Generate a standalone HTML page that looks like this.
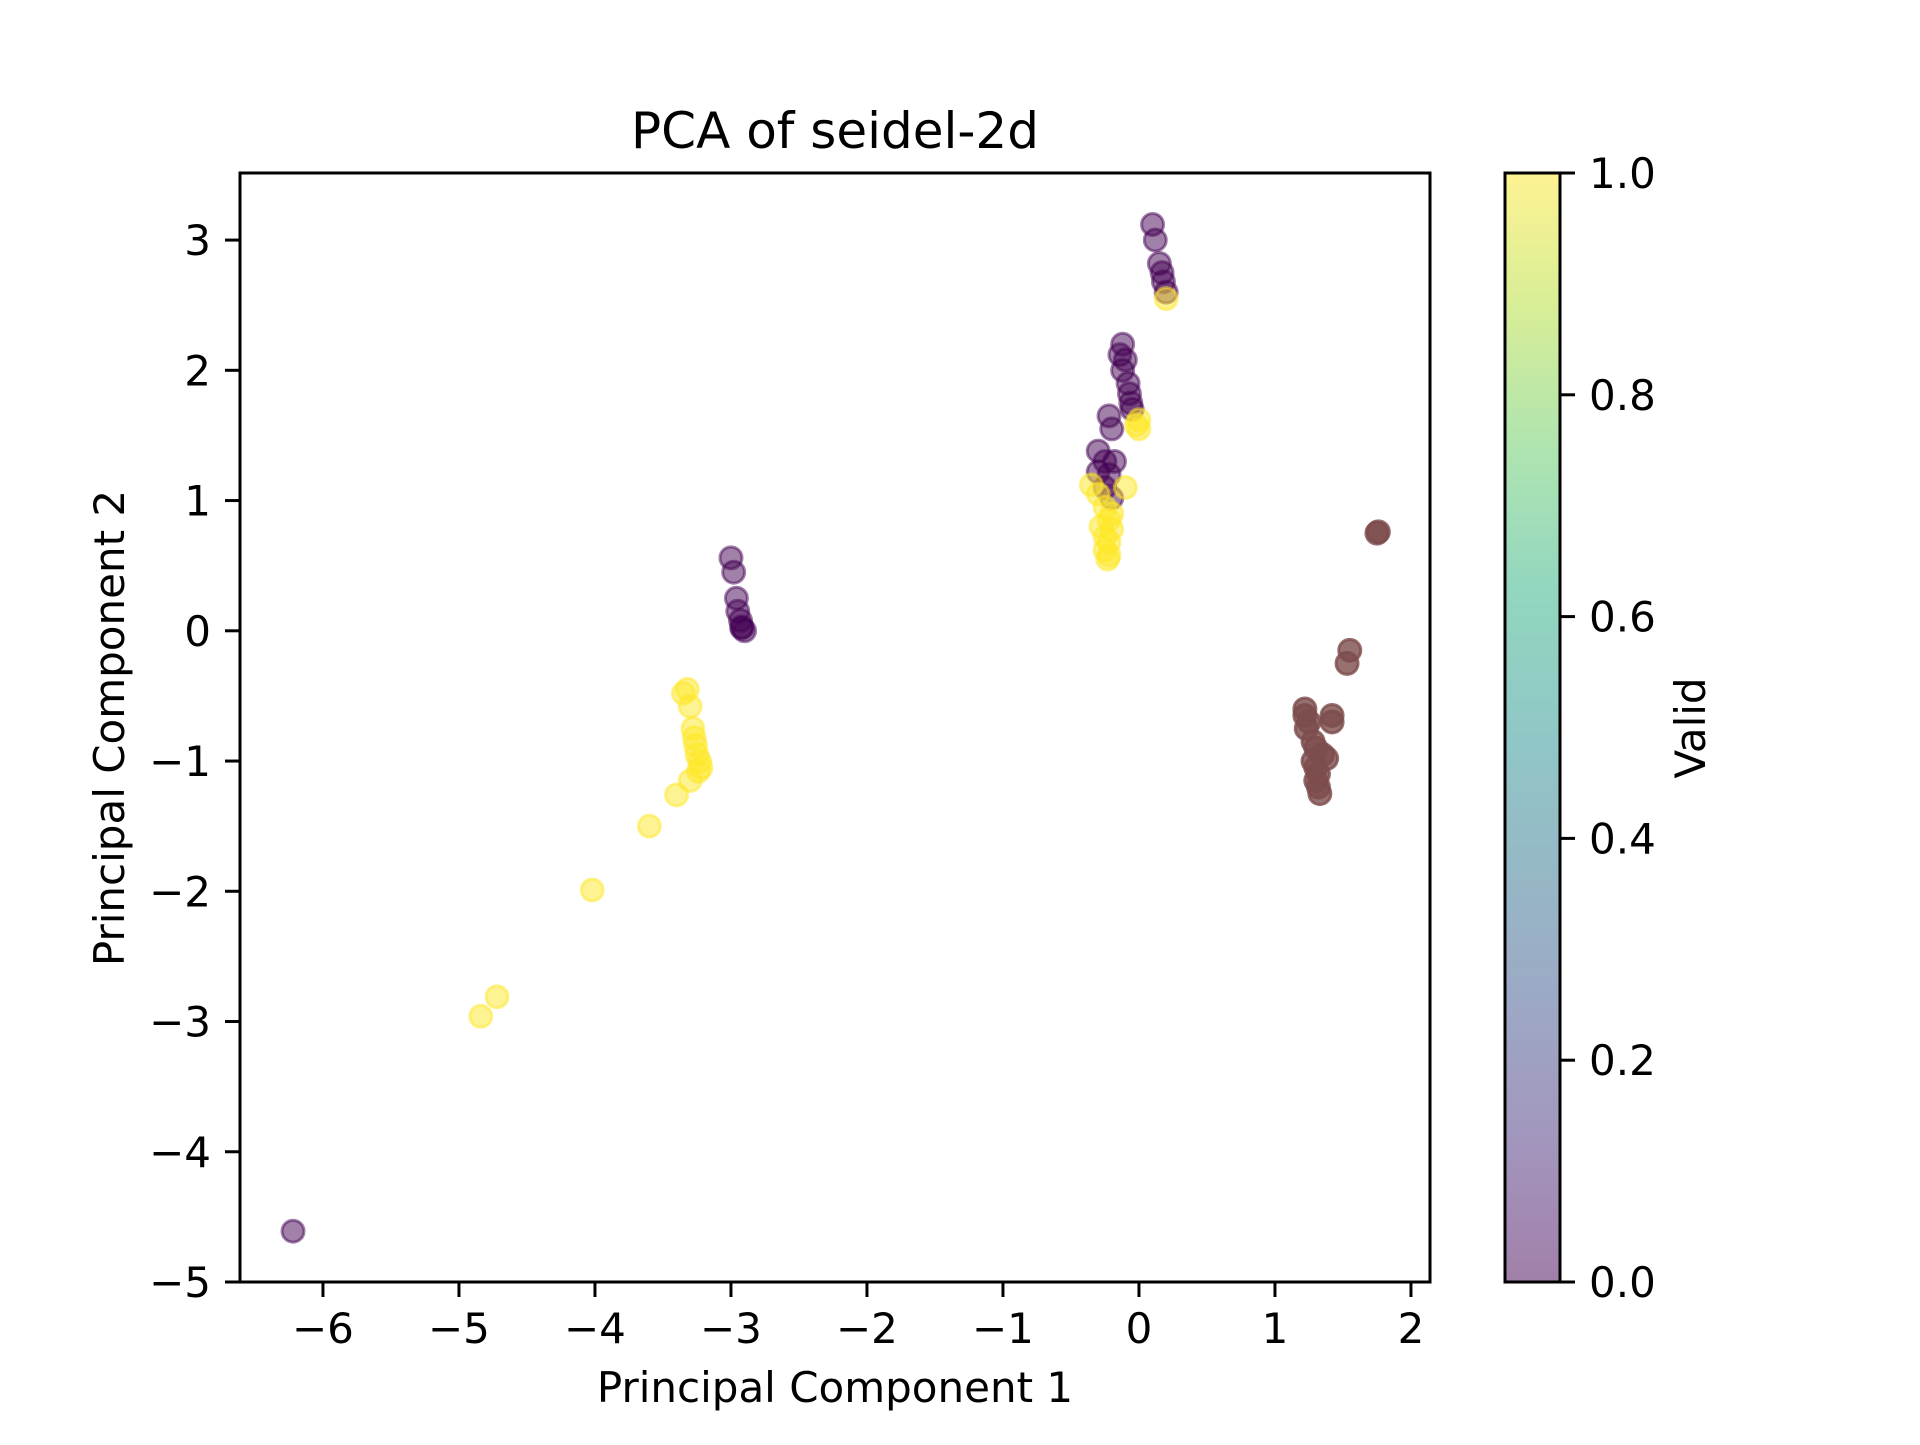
<!DOCTYPE html>
<html><head><meta charset="utf-8"><style>
body{margin:0;background:#fff}
svg text{font-family:"DejaVu Sans","Liberation Sans",sans-serif;fill:#000}
</style></head><body>
<svg id="chart" width="1920" height="1440" viewBox="0 0 1920 1440" xmlns="http://www.w3.org/2000/svg">
<defs>
<linearGradient id="viridis" x1="0" y1="1" x2="0" y2="0">
<stop offset="0" stop-color="#440154"/><stop offset="0.125" stop-color="#472d7b"/><stop offset="0.25" stop-color="#3b528b"/><stop offset="0.375" stop-color="#2c728e"/><stop offset="0.5" stop-color="#21918c"/><stop offset="0.625" stop-color="#28ae80"/><stop offset="0.75" stop-color="#5ec962"/><stop offset="0.875" stop-color="#addc30"/><stop offset="1" stop-color="#fde725"/>
</linearGradient>
</defs>
<rect width="1920" height="1440" fill="#fff"/>
<text x="835" y="148" font-size="50" text-anchor="middle">PCA of seidel-2d</text>
<g id="marks"></g>
<g id="axes"></g>
<rect x="240" y="173" width="1190" height="1109" fill="none" stroke="#000" stroke-width="3"/>
<text x="835" y="1402" font-size="42" text-anchor="middle">Principal Component 1</text>
<text transform="translate(124,728) rotate(-90)" font-size="42" text-anchor="middle">Principal Component 2</text>
<rect x="1505" y="173" width="55" height="1109" fill="url(#viridis)" fill-opacity="0.5" stroke="#000" stroke-width="3"/>
<g id="cbar"></g>
<text transform="translate(1705,728) rotate(-90)" font-size="42" text-anchor="middle">Valid</text>
</svg>
<script>
const xTicks=[-6,-5,-4,-3,-2,-1,0,1,2];
const yTicks=[-5,-4,-3,-2,-1,0,1,2,3];
const cTicks=[0.0,0.2,0.4,0.6,0.8,1.0];
const invalidX=[0.1,0.12,0.15,0.17,0.18,0.2,-0.12,-0.14,-0.1,-0.12,-0.08,-0.07,-0.06,-0.05,-0.22,-0.2,-0.3,-0.25,-0.18,-0.3,-0.22,-0.25,-0.2,-3.0,-2.98,-2.96,-2.95,-2.93,-2.92,-2.9,-2.92,-6.22];
const invalidY=[3.12,3.0,2.82,2.75,2.68,2.6,2.2,2.12,2.08,2.0,1.9,1.82,1.75,1.7,1.65,1.55,1.38,1.3,1.3,1.22,1.2,1.1,1.02,0.56,0.45,0.25,0.15,0.08,0.03,0.0,0.02,-4.61];
const validX=[0.2,0.0,0.0,-0.02,-0.35,-0.1,-0.3,-0.25,-0.2,-0.22,-0.28,-0.2,-0.25,-0.22,-0.25,-0.22,-0.23,-3.35,-3.32,-3.3,-3.28,-3.27,-3.26,-3.25,-3.23,-3.22,-3.24,-3.3,-3.4,-3.6,-4.02,-4.72,-4.84];
const validY=[2.55,1.62,1.55,1.58,1.12,1.1,1.05,0.95,0.9,0.85,0.8,0.78,0.72,0.68,0.62,0.58,0.55,-0.48,-0.45,-0.58,-0.75,-0.82,-0.88,-0.95,-1.0,-1.05,-1.08,-1.15,-1.26,-1.5,-1.99,-2.81,-2.96];
const mixedX=[1.75,1.76,1.55,1.53,1.22,1.22,1.25,1.23,1.42,1.42,1.28,1.3,1.35,1.38,1.28,1.3,1.32,1.3,1.32,1.33];
const mixedY=[0.75,0.76,-0.15,-0.25,-0.6,-0.65,-0.7,-0.75,-0.65,-0.7,-0.85,-0.9,-0.95,-0.98,-1.0,-1.05,-1.1,-1.15,-1.2,-1.25];
const NS="http://www.w3.org/2000/svg";
const X0=240,X1=1430,Y0=1282,Y1=173,XMIN=-6.61,XMAX=2.14,YMIN=-5,YMAX=3.515;
function sx(v){return X0+(v-XMIN)/(XMAX-XMIN)*(X1-X0);}
function sy(v){return Y0-(v-YMIN)/(YMAX-YMIN)*(Y0-Y1);}
function cy(v){return 1282-v*(1282-173);}
function mk(tag,attrs,parent){const e=document.createElementNS(NS,tag);for(const k in attrs)e.setAttribute(k,attrs[k]);parent.appendChild(e);return e;}
const marks=document.getElementById('marks'),axes=document.getElementById('axes'),cbar=document.getElementById('cbar');
function drawSeries(xs,ys,color,op,name){
  for(let i=0;i<xs.length;i++){
    const c=mk('circle',{cx:sx(xs[i]),cy:sy(ys[i]),r:11,fill:color,'fill-opacity':op,stroke:color,'stroke-opacity':op,'stroke-width':3},marks);
    
    
  }
}
drawSeries(invalidX,invalidY,'#440154',0.5,'invalid-point');
drawSeries(validX,validY,'#fde725',0.5,'valid-point');
drawSeries(mixedX,mixedY,'#7d4c4c',0.8,'mixed-point');
const fmt=v=>(v<0?'\u2212':'')+Math.abs(v);
xTicks.forEach(t=>{
  const l=mk('line',{x1:sx(t),x2:sx(t),y1:1282,y2:1297,stroke:'#000','stroke-width':3},axes);
  
  
  const tx=mk('text',{x:sx(t),y:1343,'font-size':42,'text-anchor':'middle'},axes);
  tx.textContent=fmt(t);
  
  
});
yTicks.forEach(t=>{
  const l=mk('line',{x1:225,x2:240,y1:sy(t),y2:sy(t),stroke:'#000','stroke-width':3},axes);
  
  
  const tx=mk('text',{x:211,y:sy(t)+15,'font-size':42,'text-anchor':'end'},axes);
  tx.textContent=fmt(t);
  
  
});
cTicks.forEach(t=>{
  const l=mk('line',{x1:1560,x2:1575,y1:cy(t),y2:cy(t),stroke:'#000','stroke-width':3},cbar);
  
  
  const tx=mk('text',{x:1589,y:cy(t)+15,'font-size':42},cbar);
  tx.textContent=t.toFixed(1);
  
  
});
</script>
</body></html>
